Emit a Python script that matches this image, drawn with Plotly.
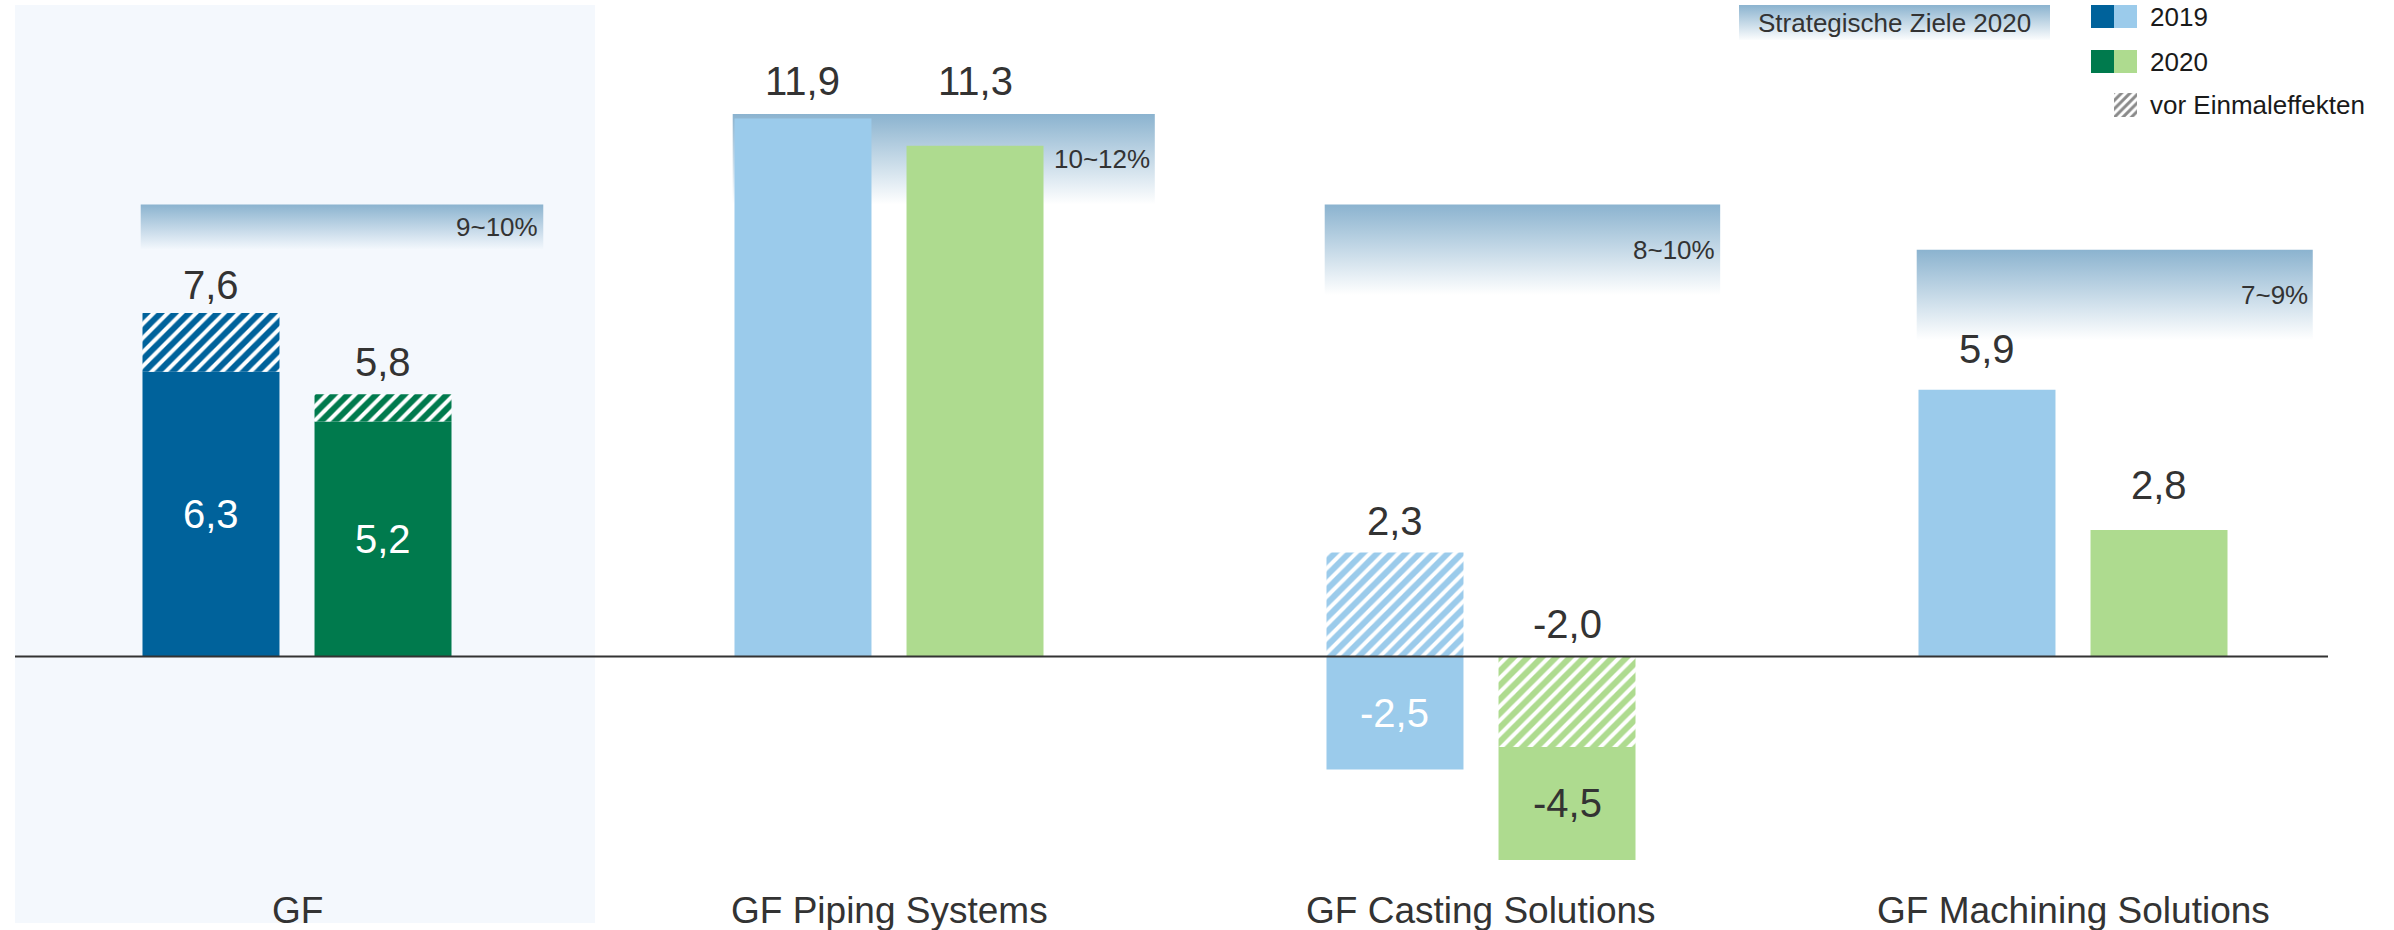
import plotly.graph_objects as go

# ---------------- data ----------------
categories = ["GF", "GF Piping Systems", "GF Casting Solutions", "GF Machining Solutions"]
years = ["2019", "2020"]
reported_2019 = [6.3, 11.9, -2.5, 5.9]
reported_2020 = [5.2, 11.3, -4.5, 2.8]
before_2019 = [7.6, None, 2.3, None]      # vor Einmaleffekten
before_2020 = [5.8, None, -2.0, None]
target_low = [9, 10, 8, 7]
target_high = [10, 12, 10, 9]
target_labels = ["9~10%", "10~12%", "8~10%", "7~9%"]
legend_target = "Strategische Ziele 2020"
legend_hatch = "vor Einmaleffekten"
unit_label = "(EBIT-Marge in %)"

# ---------------- geometry / style ----------------
W, H = 2394, 930
X0_PX, GROUP_PX = 297, 592
Y0_PX, UNIT_PX = 656.5, 45.2


def px2x(p):
    return (p - X0_PX) / GROUP_PX


def px2y(p):
    return (Y0_PX - p) / UNIT_PX


FONT = "Liberation Sans, Arial, sans-serif"
TEXT = "#333333"
DARK = {"2019": "#00629B", "2020": "#007A4D"}
LIGHT = {"2019": "#9BCBEB", "2020": "#AEDB8F"}
BAND_RGB = "139,179,207"
BAR_OFFSET = 0.1453
BAR_W = 0.2314
BAND_LEFT = -0.264
BAND_RIGHT = [0.416, 0.449, 0.404, 0.405]
LABEL_GAP = {"2019": [28, 38, 32, 41], "2020": [32, 65, 33, 45]}


def fmt(v):
    return f"{v:.1f}".replace(".", ",")


fig = go.Figure()
annotations = []
shapes = []

# GF highlight panel
shapes.append(dict(type="rect", xref="x", yref="y", x0=px2x(15), x1=px2x(595),
                   y0=px2y(923), y1=px2y(5), fillcolor="#F4F8FD",
                   line_width=0, layer="below"))

# target bands (gradient) on the base axes, behind the bars
for i in range(len(categories)):
    xa, xb = i + BAND_LEFT, i + BAND_RIGHT[i]
    lo, hi = target_low[i], target_high[i]
    fig.add_trace(go.Scatter(
        x=[xa, xb, xb, xa, xa], y=[lo, lo, hi, hi, lo], mode="lines",
        line=dict(width=0), fill="toself",
        fillgradient=dict(type="vertical",
                          colorscale=[[0, f"rgba({BAND_RGB},0)"],
                                      [1, f"rgba({BAND_RGB},1)"]]),
        hoverinfo="skip", showlegend=False, xaxis="x", yaxis="y"))
    annotations.append(dict(x=xb, y=(lo + hi) / 2, text=target_labels[i],
                            xanchor="right", yanchor="middle", showarrow=False,
                            xshift=-3, font=dict(family=FONT, size=26, color=TEXT)))


def add_bar(x, base, val, color, hatched):
    marker = dict(color=color, line=dict(width=0))
    if hatched:
        marker["pattern"] = dict(shape="/", bgcolor=color, fgcolor="white",
                                 size=10, solidity=0.4, fillmode="replace")
    fig.add_trace(go.Bar(x=[x], y=[val], base=[base], width=[BAR_W],
                         marker=marker, showlegend=False, hoverinfo="skip",
                         xaxis="x2", yaxis="y2"))


series = [("2019", reported_2019, before_2019, -1), ("2020", reported_2020, before_2020, 1)]
for yr, rep, bef, sgn in series:
    for i in range(len(categories)):
        xc = i + sgn * BAR_OFFSET
        col = DARK[yr] if i == 0 else LIGHT[yr]
        r, b = rep[i], bef[i]
        if b is None:
            add_bar(xc, 0, r, col, False)
            top = max(r, 0)
            top_text = fmt(r)
        else:
            if r >= 0:
                add_bar(xc, 0, r, col, False)
                add_bar(xc, r, b - r, col, True)
                mid = r / 2
            elif b >= 0:
                add_bar(xc, 0, r, col, False)
                add_bar(xc, 0, b, col, True)
                mid = r / 2
            else:
                add_bar(xc, 0, b, col, True)
                add_bar(xc, b, r - b, col, False)
                mid = (b + r) / 2
            top = max(b, 0)
            top_text = fmt(b)
            inside_col = TEXT if col == LIGHT["2020"] else "white"
            annotations.append(dict(x=xc, y=mid, text=fmt(r), showarrow=False,
                                    xanchor="center", yanchor="middle",
                                    font=dict(family=FONT, size=40, color=inside_col)))
        annotations.append(dict(x=xc, y=top, text=top_text, showarrow=False,
                                xanchor="center", yanchor="middle",
                                yshift=LABEL_GAP[yr][i],
                                font=dict(family=FONT, size=40, color=TEXT)))

# zero line
shapes.append(dict(type="line", xref="x", yref="y", x0=px2x(15), x1=px2x(2328),
                   y0=0, y1=0, line=dict(color="#333333", width=2), layer="above"))

# category labels
for i, c in enumerate(categories):
    annotations.append(dict(x=i, y=px2y(910), text=c, showarrow=False,
                            xanchor="center", yanchor="middle",
                            font=dict(family=FONT, size=37, color=TEXT)))

# unit label (cut off at top)
annotations.append(dict(x=px2x(17), y=1, xref="x", yref="paper", text=unit_label,
                        showarrow=False, xanchor="left", yanchor="bottom", yshift=1,
                        font=dict(family=FONT, size=25, color=TEXT)))

# ---------------- legend ----------------
lx0, lx1, ly0, ly1 = px2x(1739), px2x(2050), px2y(40), px2y(5)
fig.add_trace(go.Scatter(
    x=[lx0, lx1, lx1, lx0, lx0], y=[ly0, ly0, ly1, ly1, ly0], mode="lines",
    line=dict(width=0), fill="toself",
    fillgradient=dict(type="vertical",
                      colorscale=[[0, f"rgba({BAND_RGB},0.03)"],
                                  [1, f"rgba({BAND_RGB},1)"]]),
    hoverinfo="skip", showlegend=False, xaxis="x", yaxis="y"))
annotations.append(dict(x=px2x(1894), y=px2y(23), text=legend_target, showarrow=False,
                        xanchor="center", yanchor="middle",
                        font=dict(family=FONT, size=26, color=TEXT)))

for k, yr in enumerate(years):
    top_px = 5 + k * 45
    shapes.append(dict(type="rect", xref="x", yref="y", x0=px2x(2091), x1=px2x(2114),
                       y0=px2y(top_px + 23), y1=px2y(top_px), fillcolor=DARK[yr], line_width=0))
    shapes.append(dict(type="rect", xref="x", yref="y", x0=px2x(2114), x1=px2x(2137),
                       y0=px2y(top_px + 23), y1=px2y(top_px), fillcolor=LIGHT[yr], line_width=0))
    annotations.append(dict(x=px2x(2148), y=px2y(top_px + 12), text=yr, showarrow=False,
                            xanchor="left", yanchor="middle",
                            font=dict(family=FONT, size=26, color="#1a1a1a")))

fig.add_trace(go.Bar(x=[px2x(2125.5)], y=[24 / UNIT_PX], base=[px2y(117)],
                     width=[23 / GROUP_PX],
                     marker=dict(color="white", line=dict(width=0),
                                 pattern=dict(shape="/", bgcolor="white", fgcolor="#8a8a8a",
                                              size=6, solidity=0.5, fillmode="replace")),
                     showlegend=False, hoverinfo="skip", xaxis="x2", yaxis="y2"))
annotations.append(dict(x=px2x(2148), y=px2y(105), text=legend_hatch, showarrow=False,
                        xanchor="left", yanchor="middle",
                        font=dict(family=FONT, size=26, color="#1a1a1a")))

xr = [px2x(0), px2x(W)]
yr_ = [px2y(H), px2y(0)]
fig.update_layout(
    width=W, height=H, margin=dict(l=0, r=0, t=0, b=0, pad=0),
    paper_bgcolor="white", plot_bgcolor="white",
    barmode="overlay", showlegend=False,
    xaxis=dict(range=xr, visible=False, fixedrange=True),
    yaxis=dict(range=yr_, visible=False, fixedrange=True),
    xaxis2=dict(range=xr, visible=False, fixedrange=True, overlaying="x"),
    yaxis2=dict(range=yr_, visible=False, fixedrange=True, overlaying="y"),
    annotations=annotations, shapes=shapes,
    font=dict(family=FONT, color=TEXT),
)

fig.write_html("out.html", config={"displayModeBar": False},
               post_script="document.body.style.margin='0';")
